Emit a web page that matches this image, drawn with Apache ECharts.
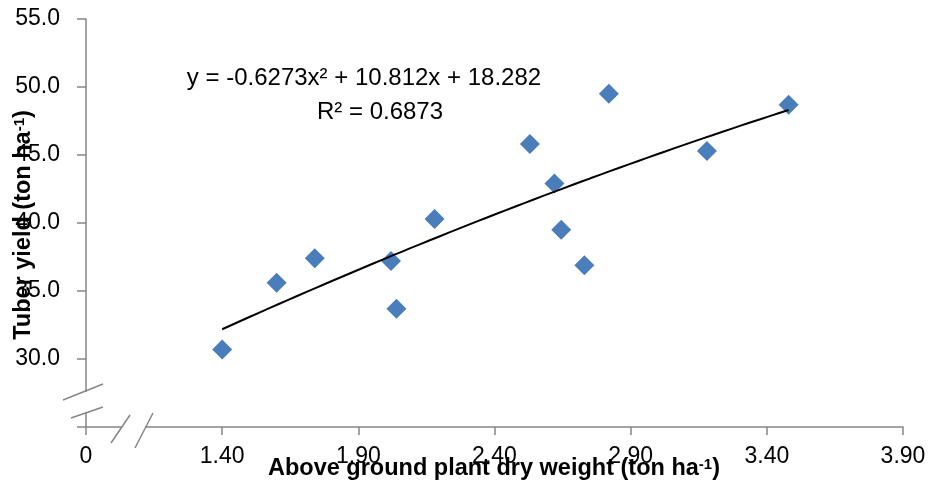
<!DOCTYPE html>
<html>
<head>
<meta charset="utf-8">
<script src="https://cdn.jsdelivr.net/npm/echarts@6/dist/echarts.min.js"></script>
<style>
  html, body { margin: 0; padding: 0; background: #fff; }
  #main { width: 930px; height: 494px; }
</style>
</head>
<body>
<div id="main"></div>
<script>
// dry weight (ton/ha) and tuber yield (ton/ha)
var dryWeight = [1.40, 1.60, 1.74, 2.02, 2.04, 2.18, 2.53, 2.62, 2.645, 2.73, 2.82, 3.18, 3.48];
var tuberYield = [30.7, 35.6, 37.4, 37.2, 33.7, 40.3, 45.8, 42.9, 39.5, 36.9, 49.5, 45.3, 48.7];
// trendline coefficients a, b, c (y = a x^2 + b x + c)
var trendCoef = [-0.6273, 10.812, 18.282];
var xTickLabels = ['0', '1.40', '1.90', '2.40', '2.90', '3.40', '3.90'];
var yTicks = [25, 30, 35, 40, 45, 50, 55];

// the x axis is broken between 0 and 1.40, so the plotted positions are shifted
var xShift = 0.9;
var axisColor = '#868686';
var font = 'Liberation Sans';

var points = [];
for (var i = 0; i < dryWeight.length; i++) {
	points.push([dryWeight[i] - xShift, tuberYield[i]]);
}

var trend = [];
var x0 = dryWeight[0], x1 = dryWeight[dryWeight.length - 1];
for (var k = 0; k <= 60; k++) {
	var x = x0 + (x1 - x0) * k / 60;
	trend.push([x - xShift, trendCoef[0] * x * x + trendCoef[1] * x + trendCoef[2]]);
}

var chart = echarts.init(document.getElementById('main'));

var option = {
	animation: false,
	grid: { left: 86, top: 19, width: 817, height: 408 },
	xAxis: {
		type: 'value',
		min: 0,
		max: 3,
		interval: 0.5,
		splitLine: { show: false },
		axisLine: { show: true, lineStyle: { color: axisColor, width: 1.5 } },
		axisTick: { show: true, length: 8, lineStyle: { color: axisColor, width: 1.5 } },
		axisLabel: {
			margin: 18,
			color: '#000',
			fontFamily: font,
			fontSize: 23,
			formatter: function (v) {
				return xTickLabels[Math.round(v / 0.5)];
			}
		}
	},
	yAxis: {
		type: 'value',
		min: 25,
		max: 55,
		interval: 5,
		splitLine: { show: false },
		axisLine: { show: true, lineStyle: { color: axisColor, width: 1.5 } },
		axisTick: { show: true, length: 9, lineStyle: { color: axisColor, width: 1.5 } },
		axisLabel: {
			margin: 26,
			color: '#000',
			fontFamily: font,
			fontSize: 23,
			formatter: function (v) {
				return v === yTicks[0] ? '' : v.toFixed(1);
			}
		}
	},
	series: [
		{
			name: 'trend',
			type: 'line',
			data: trend,
			symbol: 'none',
			smooth: false,
			lineStyle: { color: '#000', width: 2 },
			z: 3
		},
		{
			name: 'yield',
			type: 'scatter',
			data: points,
			symbol: 'diamond',
			symbolSize: 20,
			itemStyle: { color: '#4A7EBB', opacity: 1 },
			z: 2
		}
	],
	graphic: [
		// y axis break
		{ type: 'rect', z: 100, shape: { x: 83, y: 392, width: 6, height: 20 }, style: { fill: '#fff' } },
		{ type: 'line', z: 101, shape: { x1: 63, y1: 400, x2: 103, y2: 384 }, style: { stroke: axisColor, lineWidth: 1.5 } },
		{ type: 'line', z: 101, shape: { x1: 71, y1: 418, x2: 103, y2: 407 }, style: { stroke: axisColor, lineWidth: 1.5 } },
		// x axis break
		{ type: 'rect', z: 100, shape: { x: 122, y: 424, width: 23, height: 6 }, style: { fill: '#fff' } },
		{ type: 'line', z: 101, shape: { x1: 111, y1: 443, x2: 130, y2: 415 }, style: { stroke: axisColor, lineWidth: 1.5 } },
		{ type: 'line', z: 101, shape: { x1: 135, y1: 448, x2: 153, y2: 413 }, style: { stroke: axisColor, lineWidth: 1.5 } },
		// trendline equation
		{
			type: 'text', z: 102, x: 364, y: 78,
			style: {
				text: 'y = -0.6273x² + 10.812x + 18.282',
				fontFamily: font, fontSize: 24, fill: '#000',
				align: 'center', verticalAlign: 'middle'
			}
		},
		{
			type: 'text', z: 102, x: 380, y: 112,
			style: {
				text: 'R² = 0.6873',
				fontFamily: font, fontSize: 24, fill: '#000',
				align: 'center', verticalAlign: 'middle'
			}
		},
		// axis titles
		{
			type: 'text', z: 102, x: 494, y: 469,
			style: {
				text: 'Above ground plant dry weight (ton ha{sup|-1})',
				fontFamily: font, fontSize: 23.5, fontWeight: 'bold', fill: '#000',
				align: 'center', verticalAlign: 'middle',
				rich: { sup: { fontFamily: font, fontSize: 15, fontWeight: 'bold', verticalAlign: 'top', fill: '#000' } }
			}
		},
		{
			type: 'text', z: 102, x: 24, y: 225, rotation: Math.PI / 2,
			style: {
				text: 'Tuber yield (ton ha{sup|-1})',
				fontFamily: font, fontSize: 23.5, fontWeight: 'bold', fill: '#000',
				align: 'center', verticalAlign: 'middle',
				rich: { sup: { fontFamily: font, fontSize: 15, fontWeight: 'bold', verticalAlign: 'top', fill: '#000' } }
			}
		}
	]
};

chart.setOption(option);
</script>
</body>
</html>
